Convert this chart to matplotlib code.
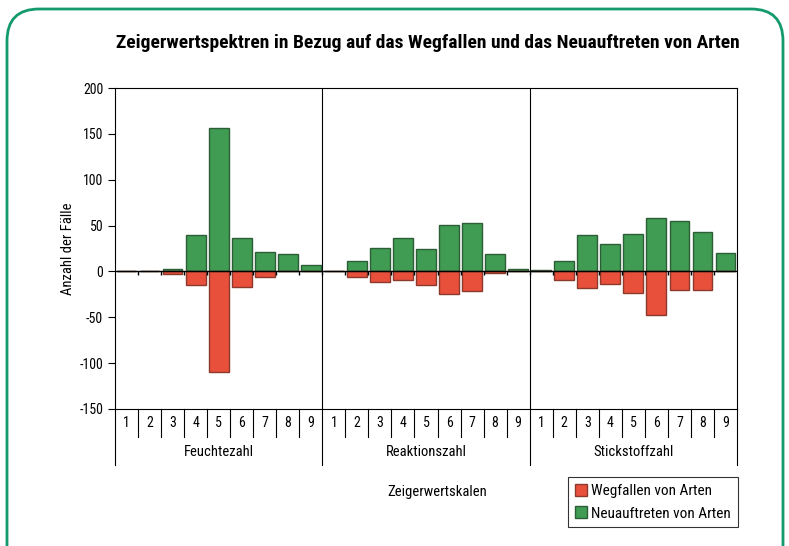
import numpy as np
import matplotlib
matplotlib.use("Agg")
from matplotlib import pyplot as plt
from matplotlib.patches import FancyBboxPatch, Patch

# condensed face close to the Univers Condensed of the original
plt.rcParams["font.family"] = ["Roboto Condensed", "DejaVu Sans"]
plt.rcParams["font.stretch"] = "condensed"
plt.rcParams["axes.unicode_minus"] = False

# values, 9 classes per indicator scale
groups = ["Feuchtezahl", "Reaktionszahl", "Stickstoffzahl"]
classes = ["1", "2", "3", "4", "5", "6", "7", "8", "9"]

neu_feuchte = [0, 0, 3, 40, 156, 36, 21, 19, 7]
neu_reaktion = [0, 11, 26, 36, 24, 51, 53, 19, 3]
neu_stickstoff = [2, 11, 40, 30, 41, 58, 55, 43, 20]

weg_feuchte = [0, 0, -3, -15, -110, -17, -6, 0, 0]
weg_reaktion = [0, -6, -12, -9, -15, -25, -21, -2, 0]
weg_stickstoff = [0, -9, -18, -14, -23, -47, -20, -20, 0]

neu = np.array(neu_feuchte + neu_reaktion + neu_stickstoff)
weg = np.array(weg_feuchte + weg_reaktion + weg_stickstoff)

GREEN = "#3f9c52"
RED = "#e8503c"
BORDER = "#139a6c"

fig = plt.figure(figsize=(7.89, 5.46), dpi=100)

# rounded frame around the whole figure
frame = FancyBboxPatch((0.07, -0.6), 7.76, 5.97,
                       boxstyle="round,pad=0,rounding_size=0.32",
                       transform=fig.dpi_scale_trans, fill=False,
                       edgecolor=BORDER, linewidth=2.0)
fig.patches.append(frame)

fig.text(428 / 789, 1 - 43 / 546,
         "Zeigerwertspektren in Bezug auf das Wegfallen und das Neuauftreten von Arten",
         ha="center", va="center", fontsize=14, fontweight="bold")

ax = fig.add_axes([115 / 789, 1 - 409 / 546, 622 / 789, 321 / 546])
n = len(neu)
x = np.arange(n) + 0.5
ax.bar(x, neu, width=0.86, color=GREEN, edgecolor="#2e5e38", linewidth=1.0, zorder=2)
ax.bar(x, weg, width=0.86, color=RED, edgecolor="#8b3a2c", linewidth=1.0, zorder=2)

ax.set_xlim(0, n)
ax.set_ylim(-150, 200)
ax.set_yticks(np.arange(-150, 201, 50))
ax.tick_params(axis="y", direction="out", length=5, labelsize=10, width=0.8)
ax.set_xticks([])
ax.set_ylabel("Anzahl der Fälle", fontsize=10.5)
ax.yaxis.set_label_coords(-40 / 622, 0.5)
for s in ax.spines.values():
    s.set_linewidth(0.8)

# zero line with small class ticks
ax.axhline(0, color="black", linewidth=1.0, zorder=3)
ax.vlines(np.arange(1, n), -3.5, 0, color="black", linewidth=1.0, zorder=3)

# group separators through the plot
k = len(classes)
for b in range(k, n, k):
    ax.axvline(b, color="black", linewidth=0.8, zorder=1)

# category table under the plot
trans = ax.get_xaxis_transform()
row_h = 28 / 321
grp_h = 56 / 321
for b in range(0, n + 1):
    depth = grp_h if b % k == 0 else row_h
    ax.plot([b, b], [0, -depth], transform=trans, color="black",
            linewidth=0.8, clip_on=False)
for i in range(n):
    ax.text(i + 0.5, -row_h / 2, classes[i % k], transform=trans,
            ha="center", va="center", fontsize=10)
for g, name in enumerate(groups):
    ax.text(g * k + k / 2, -43 / 321, name, transform=trans,
            ha="center", va="center", fontsize=10.5)

fig.text(437 / 789, 1 - 492 / 546, "Zeigerwertskalen", ha="center",
         va="center", fontsize=10.5)

handles = [Patch(facecolor=RED, edgecolor="#8b3a2c", label="Wegfallen von Arten"),
           Patch(facecolor=GREEN, edgecolor="#2e5e38", label="Neuauftreten von Arten")]
leg = fig.legend(handles=handles, loc="upper right",
                 bbox_to_anchor=(738 / 789, 1 - 477 / 546), fontsize=11,
                 frameon=True, fancybox=False, edgecolor="black",
                 handlelength=0.8, handleheight=0.8, handletextpad=0.3,
                 borderpad=0.45, labelspacing=0.55, borderaxespad=0)
leg.get_frame().set_linewidth(0.8)

fig.savefig("out.png", dpi=100)
